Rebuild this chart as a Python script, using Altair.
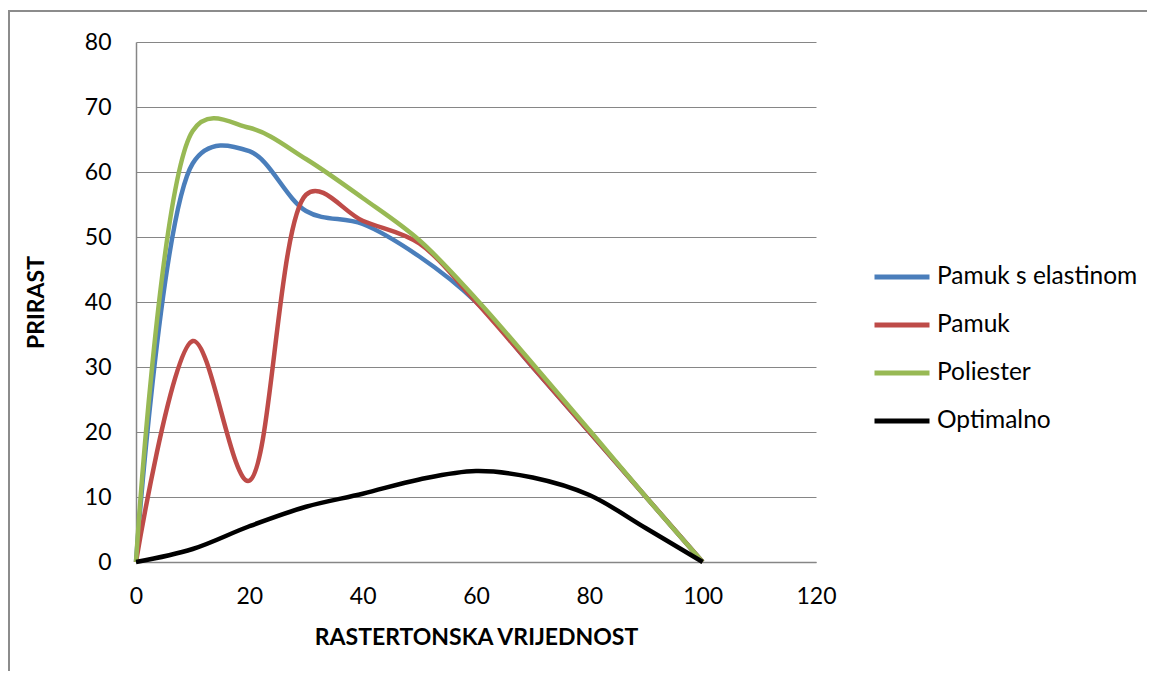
import altair as alt
import pandas as pd

x_vals = [0, 10, 20, 30, 40, 50, 60, 70, 80, 90, 100]
series_names = ["Pamuk s elastinom", "Pamuk", "Poliester", "Optimalno"]
series_colors = ["#4A7EBB", "#BE4B48", "#98B954", "#000000"]
pamuk_elastin = [0, 61.3, 63.2, 54, 52, 47, 40, 30, 20, 10, 0]
pamuk = [0, 34, 12.5, 56.5, 52.5, 49, 40, 30, 20, 10, 0]
poliester = [0, 66.3, 66.8, 62, 56, 49.5, 40.5, 30.5, 20.3, 10, 0]
optimalno = [0, 2, 5.5, 8.5, 10.5, 12.7, 14, 13, 10.3, 5.2, 0]

x_ticks = [0, 20, 40, 60, 80, 100, 120]
y_ticks = [0, 10, 20, 30, 40, 50, 60, 70, 80]

rows = []
for i, (name, vals) in enumerate(zip(series_names, [pamuk_elastin, pamuk, poliester, optimalno])):
    for x, y in zip(x_vals, vals):
        rows.append({"serija": name, "x": x, "y": y, "ord": i})
df = pd.DataFrame(rows)

FONT = "Lato"

frame = alt.Chart(pd.DataFrame({"a": [0]})).mark_rect(
    fill=None, stroke="#8C8C8C", strokeWidth=2
).encode(
    x=alt.value(-127), x2=alt.value(1100), y=alt.value(-31), y2=alt.value(700)
)

lines = alt.Chart(df).mark_line(interpolate="catmull-rom", tension=0.35, strokeWidth=4.5).encode(
    x=alt.X("x:Q", scale=alt.Scale(domain=[0, 120], nice=False),
            axis=alt.Axis(values=x_ticks, title="RASTERTONSKA VRIJEDNOST", grid=False,
                          ticks=False, tickSize=0, domainColor="#868686", domainWidth=1.5,
                          labelFont=FONT, labelFontSize=23, labelColor="#000",
                          labelPadding=23, labelFlush=False, titleFont=FONT, titleFontSize=23,
                          titleFontWeight="bold", titleColor="#000",
                          titleY=75, titleBaseline="middle")),
    y=alt.Y("y:Q", scale=alt.Scale(domain=[0, 80], nice=False),
            axis=alt.Axis(values=y_ticks, title="PRIRAST", grid=True, gridColor="#868686",
                          gridWidth=1, ticks=False, tickSize=0, domainColor="#868686",
                          domainWidth=1.5, labelFont=FONT, labelFontSize=23,
                          labelColor="#000", labelPadding=25, titleFont=FONT,
                          titleFontSize=23, titleFontWeight="bold", titleColor="#000",
                          titleX=-100, titleY=260, titleBaseline="middle")),
    color=alt.Color("serija:N", scale=alt.Scale(domain=series_names, range=series_colors),
                    legend=alt.Legend(title=None, orient="none", legendX=736, legendY=205,
                                      symbolType="stroke", symbolSize=3025,
                                      symbolStrokeWidth=5, labelFont=FONT,
                                      labelFontSize=24.5, labelColor="#000", labelLimit=400,
                                      labelOffset=5, rowPadding=6)),
    order=alt.Order("ord:Q"),
    detail="ord:Q",
)

chart = alt.layer(frame, lines).properties(
    width=680, height=520,
    autosize=alt.AutoSizeParams(type="none"),
    padding={"left": 128, "top": 34, "right": 331, "bottom": 109},
).configure_view(stroke=None)

chart.save("out.html", embed_options={"renderer": "svg", "actions": False})
